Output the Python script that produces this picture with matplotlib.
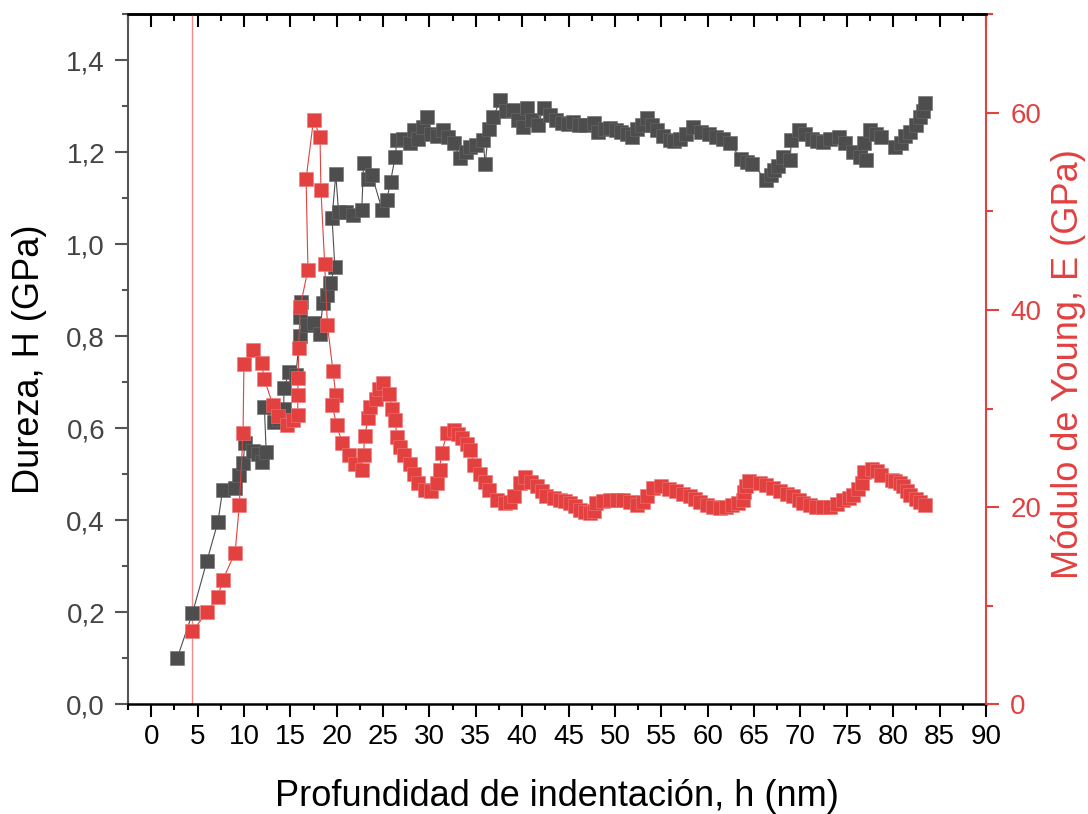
import matplotlib
matplotlib.use("Agg")
import matplotlib.pyplot as plt
from matplotlib.ticker import MultipleLocator, FixedLocator, FuncFormatter

plt.rcParams['font.family'] = ['Liberation Sans', 'DejaVu Sans']

# Hardness profile (depth in nm, H in GPa)
depth_h = [2.8, 4.45, 6.0, 7.2, 7.7, 9.05, 9.5, 9.9, 10.1, 11.0, 11.5, 11.9, 12.4,
           12.2, 13.2, 13.8, 14.3, 14.3, 14.9, 15.6, 16.0, 16.0, 16.1, 16.8, 17.5,
           18.2, 18.5, 19.0, 19.3, 19.8, 19.5, 19.9, 20.2, 21.0, 21.8, 22.7, 22.9,
           23.4, 23.8, 24.9, 25.4, 25.8, 26.3, 26.5, 27.2, 27.9, 28.3, 28.8, 29.3,
           29.7, 30.2, 30.8, 31.5, 32.0, 32.6, 33.3, 33.9, 34.4, 35.0, 35.8, 36.0,
           36.4, 36.9, 37.6, 38.2, 39.0, 39.5, 40.1, 40.5, 41.1, 41.7, 42.3, 43.0,
           43.6, 44.3, 44.9, 45.5, 46.1, 46.8, 47.7, 48.2, 48.9, 49.5, 50.1, 50.7,
           51.3, 51.8, 52.4, 52.9, 53.4, 54.0, 54.5, 55.2, 55.9, 56.4, 57.0, 57.7,
           58.4, 59.3, 60.1, 60.9, 61.6, 62.4, 63.6, 64.2, 64.8, 66.3, 66.8, 67.1,
           67.6, 68.1, 68.9, 69.0, 69.8, 70.5, 71.2, 71.8, 72.4, 73.2, 74.1, 74.8,
           75.7, 76.4, 76.8, 77.1, 77.5, 78.1, 78.7, 80.2, 80.8, 81.3, 81.8, 82.4,
           82.9, 83.2, 83.4]
hardness = [0.10, 0.198, 0.311, 0.397, 0.466, 0.471, 0.498, 0.524, 0.567, 0.55, 0.545, 0.527, 0.549,
            0.647, 0.614, 0.62, 0.643, 0.687, 0.723, 0.716, 0.80, 0.843, 0.875, 0.825, 0.83,
            0.806, 0.872, 0.89, 0.915, 0.951, 1.057, 1.152, 1.071, 1.07, 1.064, 1.075, 1.176,
            1.143, 1.15, 1.075, 1.096, 1.136, 1.19, 1.227, 1.23, 1.22, 1.248, 1.23, 1.256,
            1.277, 1.24, 1.235, 1.248, 1.234, 1.22, 1.187, 1.2, 1.212, 1.215, 1.227, 1.174,
            1.25, 1.277, 1.313, 1.29, 1.292, 1.27, 1.256, 1.296, 1.27, 1.259, 1.296, 1.281,
            1.27, 1.263, 1.262, 1.266, 1.26, 1.26, 1.263, 1.245, 1.25, 1.252, 1.248, 1.245,
            1.24, 1.234, 1.25, 1.259, 1.274, 1.26, 1.248, 1.235, 1.227, 1.225, 1.23, 1.24,
            1.256, 1.245, 1.24, 1.234, 1.23, 1.22, 1.185, 1.18, 1.175, 1.14, 1.15, 1.162,
            1.17, 1.19, 1.183, 1.227, 1.248, 1.24, 1.23, 1.225, 1.223, 1.228, 1.234, 1.22,
            1.201, 1.19, 1.22, 1.183, 1.248, 1.24, 1.234, 1.212, 1.22, 1.235, 1.245, 1.26,
            1.277, 1.29, 1.307]

# Young's modulus profile (depth in nm, E in GPa)
depth_e = [4.45, 6.0, 7.2, 7.7, 9.05, 9.5, 9.9, 10.0, 10.96, 11.9, 12.2, 13.1, 13.7,
           14.6, 15.3, 15.8, 15.8, 15.85, 15.9, 16.06, 16.9, 16.7, 17.5, 18.2, 18.3,
           18.7, 19.0, 19.6, 19.9, 19.5, 20.0, 20.6, 21.3, 22.0, 22.7, 22.9, 23.0,
           23.4, 23.6, 24.2, 24.6, 25.0, 25.6, 26.0, 26.3, 26.5, 26.8, 27.3, 27.9,
           28.3, 28.8, 29.5, 30.2, 30.8, 31.1, 31.3, 31.9, 32.6, 33.1, 33.5, 34.0,
           34.4, 34.8, 35.4, 36.0, 36.4, 37.3, 38.1, 38.7, 39.1, 39.8, 40.3, 41.0,
           41.6, 42.1, 42.6, 43.4, 44.1, 44.6, 45.2, 45.7, 46.2, 46.8, 47.3, 47.7,
           48.0, 48.7, 49.5, 50.2, 50.9, 51.6, 52.4, 53.0, 53.4, 54.1, 55.0, 55.8,
           56.6, 57.3, 58.1, 58.6, 59.2, 59.9, 60.6, 61.3, 62.0, 62.6, 63.3, 63.8,
           63.9, 64.1, 64.5, 65.6, 66.3, 67.0, 67.8, 68.5, 69.2, 69.8, 70.3, 71.0,
           71.7, 72.4, 73.2, 73.9, 74.6, 75.2, 75.7, 76.2, 76.6, 76.9, 77.7, 78.2,
           78.7, 79.9, 80.2, 80.7, 81.1, 81.5, 81.8, 82.4, 82.9, 83.4]
modulus = [7.43, 9.33, 10.9, 12.6, 15.4, 20.2, 27.5, 34.5, 35.9, 34.6, 33.0, 30.4, 29.2,
           28.3, 28.8, 29.3, 31.4, 33.1, 36.1, 40.3, 44.1, 53.3, 59.3, 57.6, 52.2,
           44.7, 38.5, 33.8, 31.4, 30.4, 28.3, 26.5, 25.3, 24.4, 23.8, 25.3, 27.2,
           29.0, 30.2, 31.0, 32.0, 32.6, 31.5, 30.0, 28.8, 27.1, 26.1, 25.3, 24.4,
           23.4, 22.4, 21.7, 21.6, 22.4, 23.8, 25.5, 27.5, 27.8, 27.4, 27.0, 26.4,
           25.8, 24.3, 23.4, 22.6, 21.7, 20.7, 20.4, 20.5, 21.1, 22.4, 23.1, 22.6,
           22.1, 21.6, 21.1, 20.9, 20.7, 20.6, 20.4, 20.1, 19.7, 19.5, 19.4, 19.6,
           20.4, 20.6, 20.7, 20.7, 20.7, 20.5, 20.2, 20.5, 21.1, 21.9, 22.1, 21.8,
           21.6, 21.3, 21.1, 20.8, 20.5, 20.2, 20.0, 19.9, 20.0, 20.2, 20.4, 20.7,
           21.5, 22.1, 22.7, 22.5, 22.2, 21.9, 21.6, 21.3, 21.1, 20.7, 20.4, 20.2,
           20.0, 20.0, 20.0, 20.3, 20.7, 20.9, 21.2, 21.8, 22.4, 23.6, 23.9, 23.7,
           23.3, 22.8, 22.7, 22.4, 22.1, 21.6, 21.2, 20.8, 20.5, 20.2]

x_ticks = list(range(0, 95, 5))
h_ticks = [0.0, 0.2, 0.4, 0.6, 0.8, 1.0, 1.2, 1.4]
e_ticks = [0, 20, 40, 60]
onset_depth = 4.4

GRAY = '#4d4d4d'
RED = '#e34040'

fig = plt.figure(figsize=(10.88, 8.14), dpi=100)
ax = fig.add_axes([128 / 1088, 1 - 704.3 / 814, (986 - 128) / 1088, (704.3 - 14.3) / 814])
ax2 = ax.twinx()

ax.plot(depth_h, hardness, color=GRAY, lw=0.8, marker='s', markersize=9.5,
        markeredgewidth=0.4, markeredgecolor='#6a6a6a', markerfacecolor=GRAY, zorder=3)
ax2.plot(depth_e, modulus, color=RED, lw=0.8, marker='s', markersize=9.5,
         markeredgewidth=0.4, markeredgecolor='#ee7777', markerfacecolor=RED, zorder=3)
ax.axvline(onset_depth, color='#ee8a8a', lw=1.0, zorder=1)

ax.set_xlim(-2.5, 90)
ax.set_ylim(0, 1.5)
ax2.set_ylim(0, 70)

ax.xaxis.set_major_locator(FixedLocator(x_ticks))
ax.xaxis.set_minor_locator(MultipleLocator(2.5))
ax.yaxis.set_major_locator(FixedLocator(h_ticks))
ax.yaxis.set_minor_locator(MultipleLocator(0.1))
ax.yaxis.set_major_formatter(FuncFormatter(lambda v, p: f"{v:.1f}".replace('.', ',')))
ax2.yaxis.set_major_locator(FixedLocator(e_ticks))
ax2.yaxis.set_minor_locator(MultipleLocator(10))

ax.tick_params(axis='x', which='both', direction='out', labelsize=20, colors='black', pad=5)
ax.tick_params(axis='x', which='major', length=9.5, width=1.5)
ax.tick_params(axis='x', which='minor', length=4.5, width=1.5)
ax.tick_params(axis='y', which='both', direction='out', labelsize=20, color='#555555',
               labelcolor='#444444', pad=7)
ax.tick_params(axis='y', which='major', length=9.5, width=1.5)
ax.tick_params(axis='y', which='minor', length=4.0, width=1.5)
ax2.tick_params(axis='y', which='both', direction='out', labelsize=20, color=RED,
                labelcolor=RED, pad=8)
ax2.tick_params(axis='y', which='major', length=9.5, width=1.5)
ax2.tick_params(axis='y', which='minor', length=5.0, width=1.5)

# inward ticks along the top edge
top = ax.secondary_xaxis('top')
top.xaxis.set_major_locator(FixedLocator(x_ticks))
top.xaxis.set_minor_locator(MultipleLocator(2.5))
top.tick_params(which='both', direction='in', labeltop=False, width=1.5)
top.tick_params(which='major', length=9.5)
top.tick_params(which='minor', length=5.0)
top.spines['top'].set_linewidth(1.8)

ax.spines['bottom'].set_linewidth(1.8)
ax.spines['bottom'].set_color('black')
ax.spines['left'].set_linewidth(1.5)
ax.spines['left'].set_color('#555555')
ax.spines['right'].set_visible(False)
ax2.spines['right'].set_color(RED)
ax2.spines['right'].set_linewidth(1.5)
ax2.spines['left'].set_visible(False)
ax2.spines['bottom'].set_visible(False)
ax2.spines['top'].set_linewidth(1.8)

fig.text(557 / 1088, 1 - 797 / 814, 'Profundidad de indentación, h (nm)',
         ha='center', va='center', fontsize=26)
fig.text(30 / 1088, 1 - 359 / 814, 'Dureza, H (GPa)', rotation=90,
         ha='center', va='center', fontsize=26, color='black')
fig.text(1069 / 1088, 1 - 364 / 814, 'Módulo de Young, E (GPa)', rotation=90,
         ha='center', va='center', fontsize=26, color=RED)

fig.savefig('out.png', dpi=100)
